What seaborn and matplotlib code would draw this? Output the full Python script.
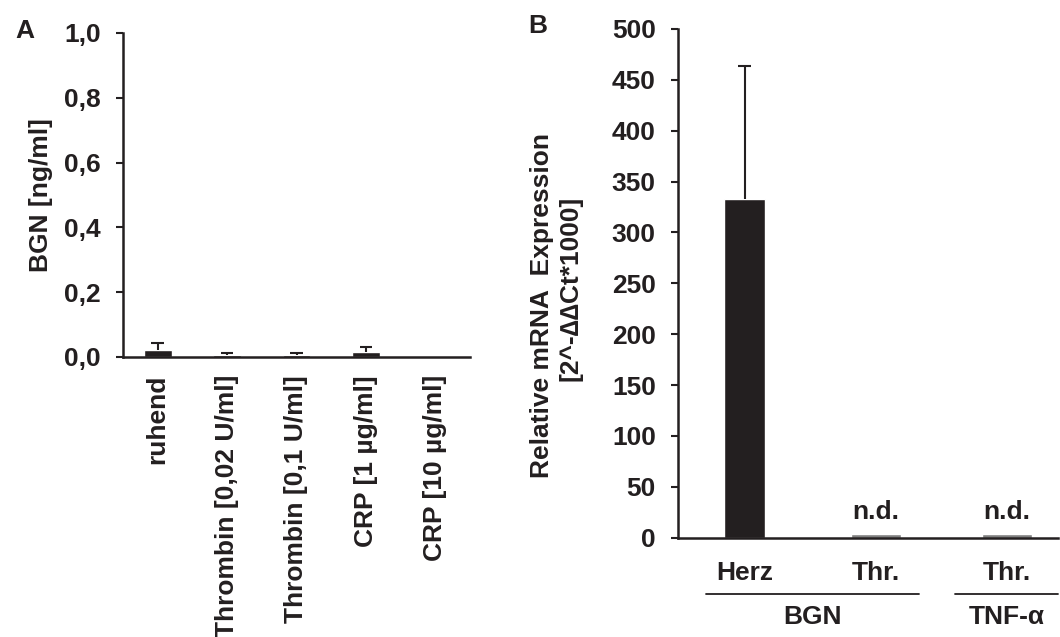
import numpy as np
import pandas as pd
import matplotlib
matplotlib.use("Agg")
import matplotlib.pyplot as plt
import matplotlib.transforms as mtransforms
import seaborn as sns

# ---- Panel A: BGN release from platelets ----
a_conditions = ["ruhend", "Thrombin [0,02 U/ml]", "Thrombin [0,1 U/ml]",
                "CRP [1 µg/ml]", "CRP [10 µg/ml]"]
a_mean = [0.023, 0.007, 0.006, 0.015, 0.001]
a_err = [0.021, 0.006, 0.006, 0.015, 0.0]
a_yticks = [0.0, 0.2, 0.4, 0.6, 0.8, 1.0]
a_yticklabels = ["0,0", "0,2", "0,4", "0,6", "0,8", "1,0"]

# ---- Panel B: relative mRNA expression ----
b_keys = ["BGN_Herz", "BGN_Thr", "TNF_Thr"]
b_ticklabels = ["Herz", "Thr.", "Thr."]
b_mean = [333.0, 4.0, 4.0]
b_err = [130.5, 0.0, 0.0]
b_detected = [True, False, False]
b_groups = ["BGN", "TNF-α"]
b_yticks = [0, 50, 100, 150, 200, 250, 300, 350, 400, 450, 500]

INK = "#231f20"
GRAY = "#808080"
FS = 19

sns.set_theme(style="white")
plt.rcParams["font.family"] = ["Liberation Sans", "DejaVu Sans"]
plt.rcParams["font.weight"] = "bold"
plt.rcParams["font.size"] = FS
plt.rcParams["text.color"] = INK
plt.rcParams["axes.labelcolor"] = INK
plt.rcParams["xtick.color"] = INK
plt.rcParams["ytick.color"] = INK

fig = plt.figure(figsize=(10.6, 6.37), dpi=100)


def upper_errorbars(ax, xs, means, errs, half_cap, lw=1.5):
    """Excel-style error bars: only the upper whisker with a cap."""
    for x, m, e in zip(xs, means, errs):
        if e <= 0:
            continue
        ax.vlines(x, m, m + e, color=INK, lw=lw, zorder=3)
        ax.hlines(m + e, x - half_cap, x + half_cap, color=INK, lw=lw,
                  zorder=3)


def style_axes(ax):
    for s in ["top", "right"]:
        ax.spines[s].set_visible(False)
    for s in ["left", "bottom"]:
        ax.spines[s].set_color(INK)
        ax.spines[s].set_linewidth(1.8)
    ax.tick_params(axis="y", direction="out", length=5, width=1.5, pad=11,
                   left=True)


# ---------------- Panel A ----------------
axA = fig.add_axes([123 / 1060, 1 - 357 / 637, 347 / 1060, 324 / 637])
dfA = pd.DataFrame({"cond": a_conditions, "val": a_mean})
sns.barplot(data=dfA, x="cond", y="val", order=a_conditions, color=INK,
            saturation=1, width=0.4, errorbar=None, ax=axA)
upper_errorbars(axA, np.arange(len(a_conditions)), a_mean, a_err, 0.09)
axA.set_xlim(-0.5, len(a_conditions) - 0.5)
axA.set_ylim(0, 1.0)
axA.set_yticks(a_yticks)
axA.set_yticklabels(a_yticklabels, fontweight="bold", fontsize=FS)
axA.set_xticks(np.arange(len(a_conditions)))
axA.set_xticklabels(a_conditions, rotation=90, fontweight="bold",
                    fontsize=FS, va="top", ha="center")
axA.set_xlabel("")
axA.set_ylabel("BGN [ng/ml]", fontweight="bold", fontsize=FS, labelpad=8)
style_axes(axA)
axA.tick_params(axis="x", length=0, pad=13)
fig.text(15 / 1060, 1 - 38 / 637, "A", fontsize=FS, fontweight="bold",
         ha="left", va="baseline")

# ---------------- Panel B ----------------
axB = fig.add_axes([678 / 1060, 1 - 537.7 / 637, 380 / 1060, 508.7 / 637])
dfB = pd.DataFrame({"key": b_keys, "val": b_mean, "det": b_detected})
sns.barplot(data=dfB[dfB["det"]], x="key", y="val", order=b_keys,
            color=INK, saturation=1, width=0.31, errorbar=None, ax=axB)
sns.barplot(data=dfB[~dfB["det"]], x="key", y="val", order=b_keys,
            color=GRAY, saturation=1, width=0.38, errorbar=None, ax=axB)
upper_errorbars(axB, np.arange(len(b_keys)), b_mean, b_err, 0.05)
for i, det in enumerate(b_detected):
    if not det:
        axB.text(i, b_mean[i] + 9, "n.d.", ha="center", va="bottom",
                 fontsize=FS, fontweight="bold")
axB.set_xlim(-0.507, 2.389)
axB.set_ylim(0, 500)
axB.set_yticks(b_yticks)
axB.set_yticklabels([str(t) for t in b_yticks], fontweight="bold",
                    fontsize=FS)
axB.set_xticks(np.arange(len(b_keys)))
axB.set_xticklabels(b_ticklabels, fontweight="bold", fontsize=FS)
axB.set_xlabel("")
axB.set_ylabel("")
style_axes(axB)
axB.tick_params(axis="x", length=0, pad=17)

# y-axis title in two lines
fig.text(542 / 1060, 1 - 305 / 637, "Relative mRNA  Expression",
         rotation=90, ha="center", va="center", fontsize=FS,
         fontweight="bold")
fig.text(571 / 1060, 1 - 288 / 637, "[2^-∆∆Ct*1000]",
         rotation=90, ha="center", va="center", fontsize=FS,
         fontweight="bold")

# group brackets under the categories
trans = mtransforms.blended_transform_factory(axB.transData, axB.transAxes)
group_spans = [(-0.293, 1.33), (1.604, 2.389)]
line_y = (537.7 - 594) / 508.7
label_y = (537.7 - 617) / 508.7
for name, (x0, x1) in zip(b_groups, group_spans):
    axB.plot([x0, x1], [line_y, line_y], color=INK, lw=1.3,
             transform=trans, clip_on=False)
    xc = (x0 + x1) / 2 if name == "BGN" else 2.0
    axB.text(xc, label_y, name, transform=trans, ha="center", va="center",
             fontsize=FS, fontweight="bold")

fig.text(528 / 1060, 1 - 33 / 637, "B", fontsize=FS, fontweight="bold",
         ha="left", va="baseline")

fig.savefig("out.png", dpi=100)
